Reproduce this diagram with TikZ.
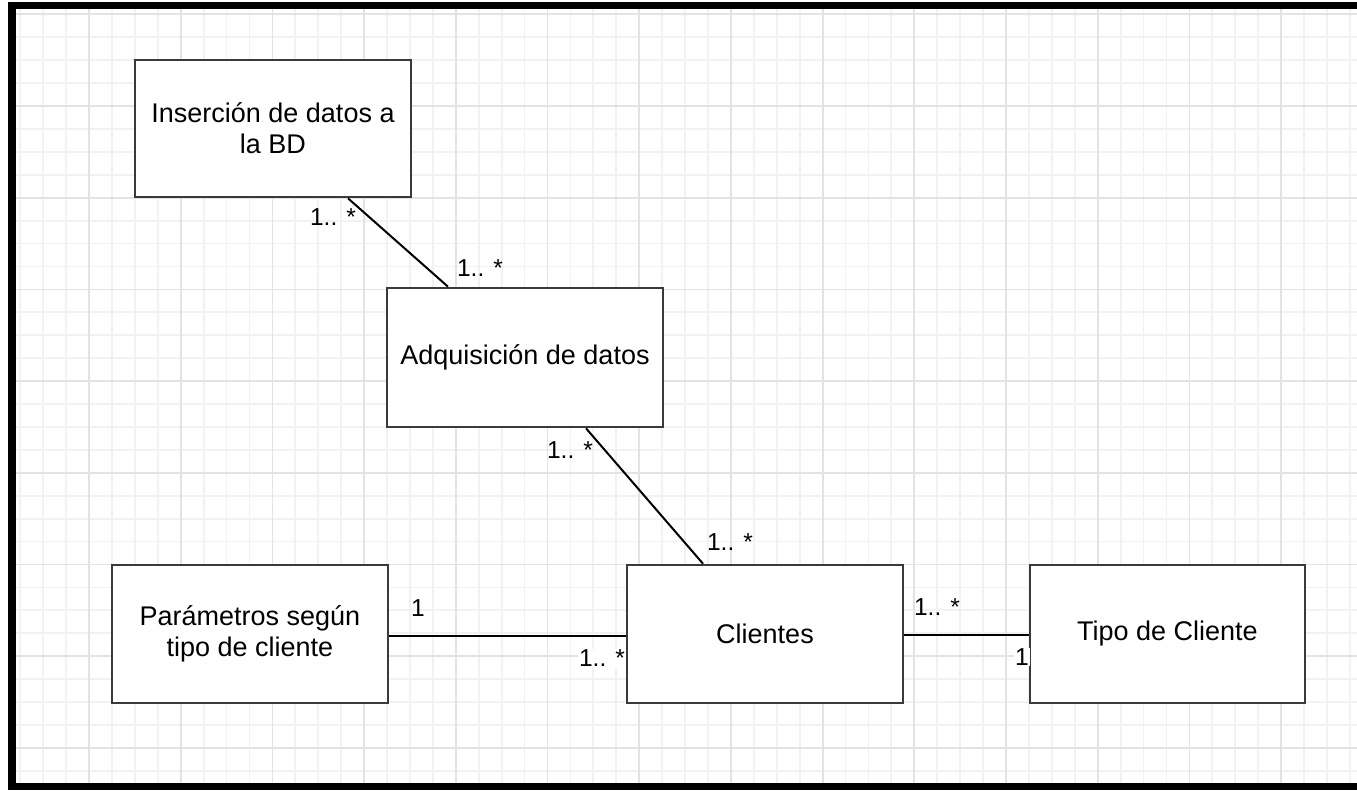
\documentclass[tikz,border=0pt]{standalone}
\usepackage{fontspec}
\setmainfont{Liberation Sans}
\definecolor{minorgrid}{HTML}{F2F2F2}
\definecolor{majorgrid}{HTML}{E3E3E3}
\definecolor{boxline}{HTML}{3A3A3A}
\tikzset{
  umlbox/.style={draw=boxline, line width=2.6pt, fill=white, minimum width=276pt, minimum height=138pt, inner sep=0pt, align=center, font=\fontsize{27}{31}\selectfont},
  assoc/.style={draw=black, line width=2pt},
  mult/.style={inner sep=1pt, font=\fontsize{24.5}{28}\selectfont},
  multbg/.style={mult, fill=white},
  gridminor/.style={draw=minorgrid, line width=1.8pt},
  gridmajor/.style={draw=majorgrid, line width=1.8pt}
}
\begin{document}
\begin{tikzpicture}[x=1pt,y=-1pt]
\useasboundingbox (0,0) rectangle (1357,790);
\fill[white] (0,0) rectangle (1357,790);
% grid
\begin{scope}
\clip (16,9) rectangle (1357,783);
\foreach \i in {0,...,60} {
  \pgfmathsetmacro\xx{-2.7+\i*22.925}
  \draw[gridminor] (\xx,0) -- (\xx,790);
}
\foreach \j in {0,...,34} {
  \pgfmathsetmacro\yy{14.3+\j*22.925}
  \draw[gridminor] (0,\yy) -- (1357,\yy);
}
\foreach \i in {0,...,15} {
  \pgfmathsetmacro\xx{-2.7+\i*91.7}
  \draw[gridmajor] (\xx,0) -- (\xx,790);
}
\foreach \j in {0,...,8} {
  \pgfmathsetmacro\yy{14.3+\j*91.7}
  \draw[gridmajor] (0,\yy) -- (1357,\yy);
}
\end{scope}
% frame
\fill[black] (8,2) rectangle (1357,9);
\fill[black] (8,2) rectangle (16,790);
\fill[black] (8,783) rectangle (1357,790);
% boxes
\node[umlbox, minimum height=137pt] (ins) at (273,128.5) {Inserción de datos a\\la BD};
\node[umlbox, minimum height=139pt] (adq) at (525,357.5) {Adquisición de datos};
\node[umlbox] (par) at (250,634) {Parámetros según\\tipo de cliente};
\node[umlbox] (cli) at (765,634) {Clientes};
\node[umlbox, minimum width=275pt] (tipo) at (1167.5,634) {Tipo de Cliente};
% connectors
\draw[assoc] ([xshift=75pt]ins.south) -- ([xshift=-77pt]adq.north);
\draw[assoc] ([xshift=61pt]adq.south) -- ([xshift=-62pt]cli.north);
\draw[assoc] ([yshift=-2pt]par.east) -- ([yshift=-2pt]cli.west);
\draw[assoc] ([yshift=-1pt]cli.east) -- ([yshift=-1pt]tipo.west);
% multiplicities
\node[mult] (m1) at (333,217) {1.. *};
\node[mult] (m2) at (480,268) {1.. *};
\node[mult] (m3) at (570,450) {1.. *};
\node[mult] (m4) at (730,542) {1.. *};
\node[mult] (m5) at (418,608) {1};
\node[multbg] (m6) at (602,658) {1.. *};
\node[mult] (m7) at (937,607) {1.. *};
\node[multbg] (m8) at (1022,657) {1};
\end{tikzpicture}
\end{document}
